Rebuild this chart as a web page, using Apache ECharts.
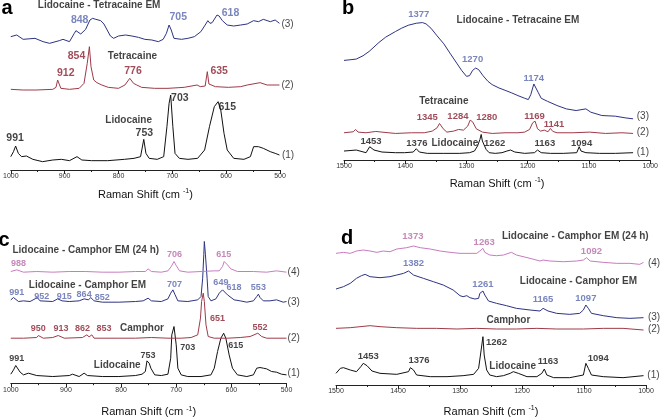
<!DOCTYPE html>
<html>
<head>
<meta charset="utf-8">
<script src="https://cdn.jsdelivr.net/npm/echarts@6/dist/echarts.min.js"></script>
<style>
  html, body { margin: 0; background: #fff; }
  #chart { width: 661px; height: 419px; }
</style>
</head>
<body>
<div id="chart"></div>
<script>
// ---- panel a : 1000-500 cm-1, [shift, intensity] ----
const aLido = [[1000,40],[995,55],[991,72],[986,50],[980,40],[971,42],[959,32],[941,25],[922,30],[906,32],[891,28],[877,40],[868,30],[850,28],[820,28],[789,32],[771,35],[759,40],[753,92],[749,50],[743,35],[728,32],[716,40],[710,130],[706,200],[703,225],[699,130],[695,50],[687,35],[671,32],[653,35],[640,60],[631,130],[622,190],[615,205],[610,180],[604,110],[598,60],[586,35],[567,32],[555,40],[549,70],[540,70],[531,65],[518,55],[509,50],[501,45]];
const aTetra = [[1000,242],[977,240],[953,240],[922,242],[916,248],[913,270],[911,272],[907,245],[891,242],[873,245],[864,260],[858,320],[854,370],[851,310],[846,270],[840,262],[831,255],[819,248],[800,245],[788,255],[779,275],[776,278],[772,260],[766,255],[757,248],[733,245],[708,245],[678,248],[654,255],[648,250],[639,252],[635,295],[632,258],[620,250],[596,248],[573,250],[561,255],[537,262],[524,255],[501,255]];
const aEM = [[1000,400],[989,405],[977,392],[955,395],[940,385],[928,380],[910,388],[903,392],[891,385],[882,410],[879,418],[870,408],[861,422],[853,450],[848,455],[842,452],[833,448],[827,438],[821,420],[815,402],[809,395],[800,402],[787,405],[775,402],[763,398],[751,392],[738,390],[726,385],[717,392],[711,410],[706,435],[702,420],[697,395],[683,392],[671,395],[659,400],[647,415],[639,435],[634,448],[630,440],[626,442],[617,465],[613,462],[607,448],[598,435],[586,432],[573,435],[561,438],[549,448],[540,445],[531,452],[518,445],[509,450],[501,440]];
const aPeaksLido = [[992,95,'991'],[752,110,'753'],[686,215,'703'],[598,190,'615']];
const aPeaksTetra = [[878,342,'854'],[898,292,'912'],[773,297,'776'],[613,297,'635']];
const aPeaksEM = [[872,450,'848'],[689,458,'705'],[592,472,'618']];
const aNames = [[836,495,'Lidocaine - Tetracaine EM'],[774,342,'Tetracaine'],[781,148,'Lidocaine']];
const aNums = [[486,438,'(3)'],[486,255,'(2)'],[485,45,'(1)']];

// ---- panel b : 1500-1000 cm-1 ----
const bLido = [[1500,27],[1480,30],[1464,22],[1458,40],[1451,30],[1438,24],[1416,22],[1401,22],[1387,24],[1382,34],[1377,24],[1364,20],[1337,20],[1311,20],[1295,22],[1287,27],[1282,42],[1278,62],[1276,77],[1274,57],[1268,32],[1263,22],[1253,20],[1242,22],[1234,27],[1228,30],[1221,24],[1205,20],[1189,22],[1184,30],[1181,32],[1178,22],[1163,20],[1142,20],[1120,22],[1116,40],[1113,27],[1105,22],[1083,20],[1057,20],[1028,22]];
const bTetra = [[1500,82],[1485,85],[1481,92],[1477,84],[1464,82],[1448,86],[1438,84],[1416,80],[1390,82],[1369,82],[1356,87],[1348,97],[1344,110],[1338,94],[1332,84],[1321,87],[1313,92],[1305,90],[1298,102],[1294,120],[1290,115],[1284,94],[1274,84],[1258,80],[1237,82],[1216,82],[1205,84],[1197,92],[1192,112],[1188,117],[1184,94],[1179,87],[1173,90],[1167,85],[1163,95],[1159,86],[1152,82],[1126,82],[1099,84],[1073,80],[1046,82],[1028,80]];
const bEM = [[1500,300],[1490,302],[1480,304],[1469,314],[1459,327],[1443,354],[1432,370],[1416,387],[1406,397],[1395,406],[1382,412],[1372,414],[1366,410],[1358,397],[1348,374],[1337,350],[1327,322],[1316,292],[1308,270],[1300,252],[1295,254],[1290,270],[1285,277],[1280,272],[1273,254],[1265,237],[1258,227],[1247,217],[1237,210],[1226,202],[1216,194],[1205,186],[1199,182],[1195,197],[1190,229],[1187,227],[1183,204],[1178,186],[1168,177],[1152,164],[1137,154],[1121,149],[1105,154],[1097,144],[1079,134],[1057,132],[1041,127],[1028,124]];
const bPeaksLido = [[1456,57,'1453'],[1381,50,'1376'],[1254,50,'1262'],[1172,50,'1163'],[1112,50,'1094']];
const bPeaksTetra = [[1364,127,'1345'],[1314,132,'1284'],[1267,127,'1280'],[1189,132,'1169'],[1157,107,'1141']];
const bPeaksEM = [[1378,440,'1377'],[1290,302,'1270'],[1190,247,'1174']];
const bNames = [[1216,422,'Lidocaine - Tetracaine EM'],[1337,177,'Tetracaine'],[1319,50,'Lidocaine']];
const bNums = [[1012,132,'(3)'],[1012,84,'(2)'],[1012,22,'(1)']];

// ---- panel c : 1000-500 cm-1 ----
const cLido = [[1000,27],[995,40],[991,53],[983,33],[977,25],[968,30],[953,23],[924,20],[894,23],[888,27],[876,20],[867,30],[861,23],[834,20],[804,20],[774,23],[762,27],[756,35],[753,67],[749,60],[746,45],[739,25],[727,23],[715,27],[710,75],[708,145],[704,170],[700,115],[697,45],[691,25],[679,20],[655,20],[637,25],[631,45],[625,95],[619,135],[614,150],[610,135],[604,85],[598,45],[589,25],[572,20],[560,25],[554,45],[548,47],[542,45],[536,43],[527,35],[518,33],[509,27],[500,25]];
const cCamphor = [[1000,135],[977,135],[953,137],[950,143],[941,135],[924,137],[914,143],[903,135],[870,137],[862,145],[858,139],[853,145],[849,135],[804,135],[774,135],[745,137],[715,135],[691,135],[673,137],[661,145],[656,195],[654,245],[651,270],[649,245],[646,175],[642,140],[631,135],[607,135],[584,137],[566,140],[552,150],[545,140],[536,135],[500,135]];
const cEM = [[1000,250],[995,257],[986,245],[977,247],[965,245],[956,253],[952,257],[947,247],[924,245],[915,253],[912,257],[907,247],[894,245],[876,247],[867,253],[864,257],[859,250],[855,257],[849,247],[834,243],[804,243],[774,245],[760,247],[751,255],[745,247],[727,245],[715,253],[710,270],[706,280],[702,265],[697,247],[679,245],[661,250],[655,260],[652,315],[650,385],[649,425],[647,385],[644,315],[642,260],[637,247],[628,253],[622,270],[616,280],[607,265],[595,250],[584,247],[572,243],[560,247],[554,260],[551,267],[548,257],[542,247],[530,247],[518,250],[506,243],[500,245]];
const cEM24 = [[1000,335],[989,340],[977,333],[953,335],[924,333],[894,335],[864,335],[834,333],[804,333],[774,335],[756,335],[751,343],[745,335],[727,333],[715,337],[709,350],[704,365],[700,353],[694,337],[679,333],[655,335],[631,337],[622,337],[616,350],[613,365],[607,355],[601,343],[589,335],[560,335],[536,333],[518,337],[500,333]];
const cPeaksLido = [[989,75,'991'],[751,83,'753'],[679,107,'703'],[592,113,'615']];
const cPeaksCamphor = [[625,193,'651'],[548,167,'552'],[950,165,'950'],[909,165,'913'],[870,165,'862'],[831,165,'853']];
const cPeaksEM = [[703,295,'707'],[619,302,'649'],[595,287,'618'],[551,287,'553'],[989,273,'991'],[944,260,'952'],[903,260,'915'],[867,265,'864'],[834,257,'852']];
const cPeaksEM24 = [[703,385,'706'],[614,387,'615'],[986,360,'988']];
const cNames = [[864,398,'Lidocaine - Camphor EM (24 h)'],[861,293,'Lidocaine - Camphor EM'],[762,165,'Camphor'],[807,53,'Lidocaine']];
const cNums = [[487,333,'(4)'],[487,243,'(3)'],[487,135,'(2)'],[487,30,'(1)']];

// ---- panel d : 1500-1000 cm-1 ----
const dLido = [[1500,35],[1493,50],[1488,52],[1477,45],[1467,40],[1460,55],[1456,65],[1450,58],[1442,42],[1429,35],[1402,32],[1383,40],[1380,52],[1375,45],[1370,30],[1348,25],[1321,25],[1295,28],[1278,32],[1270,50],[1267,90],[1263,145],[1261,90],[1257,45],[1252,30],[1241,25],[1230,28],[1219,35],[1214,40],[1206,35],[1192,25],[1176,25],[1168,35],[1164,48],[1160,30],[1149,22],[1123,22],[1101,30],[1097,65],[1093,50],[1088,30],[1069,25],[1037,22],[1004,28]];
const dCamphor = [[1500,170],[1477,172],[1445,178],[1429,175],[1402,172],[1370,170],[1338,170],[1305,168],[1273,170],[1241,168],[1209,168],[1176,170],[1144,168],[1101,168],[1069,170],[1037,170],[1004,165]];
const dEM = [[1500,288],[1488,295],[1477,305],[1467,320],[1459,328],[1453,332],[1445,325],[1429,322],[1413,325],[1402,330],[1391,335],[1383,342],[1375,330],[1359,320],[1343,310],[1327,300],[1311,285],[1300,268],[1295,265],[1289,268],[1284,262],[1276,258],[1270,260],[1268,275],[1263,282],[1260,270],[1254,252],[1241,245],[1225,238],[1209,230],[1187,225],[1171,222],[1166,230],[1158,222],[1144,215],[1123,212],[1107,215],[1101,225],[1097,240],[1093,230],[1088,215],[1069,208],[1047,202],[1026,200],[1004,202]];
const dEM24 = [[1500,395],[1488,398],[1477,395],[1467,402],[1456,405],[1445,402],[1434,398],[1424,402],[1413,400],[1402,408],[1386,412],[1375,417],[1364,412],[1348,408],[1332,402],[1316,398],[1300,395],[1284,395],[1273,395],[1268,402],[1263,410],[1260,398],[1252,390],[1241,388],[1230,390],[1217,398],[1209,390],[1187,380],[1171,372],[1166,375],[1155,372],[1133,370],[1112,372],[1101,375],[1096,382],[1090,372],[1069,368],[1047,365],[1026,365],[1010,362],[1004,368]];
const dPeaksLido = [[1448,85,'1453'],[1366,75,'1376'],[1241,128,'1262'],[1158,70,'1163'],[1077,80,'1094']];
const dPeaksEM = [[1375,365,'1382'],[1263,302,'1261'],[1166,258,'1165'],[1097,260,'1097']];
const dPeaksEM24 = [[1376,445,'1373'],[1261,428,'1263'],[1088,402,'1092']];
const dNames = [[1114,445,'Lidocaine - Camphor EM (24 h)'],[1109,312,'Lidocaine - Camphor EM'],[1222,195,'Camphor'],[1215,55,'Lidocaine']];
const dNums = [[987,365,'(4)'],[987,202,'(3)'],[987,168,'(2)'],[988,30,'(1)']];

const FONT = 'Liberation Sans, Arial, sans-serif';
const lineLido = '#111111', lineDrug = '#9e3a48', lineEM = '#2d3381', lineEM24 = '#c87cbf';
const txtLido = '#111111', txtDrug = '#8a1f30', txtEM = '#5766ad', txtEM24 = '#b56aa8';

// grids: [left, top, width, height, yMax, xMin, xMax, nameGap, peak label size]
const grids = [
    [7, 0, 273, 170, 510, 500, 1000, 18, 10.5],
    [344, 0, 315, 160, 482, 1000, 1500, 17, 9.5],
    [7, 211.5, 279.5, 171.7, 515, 500, 1000, 22, 9],
    [336, 211.7, 310, 173.3, 520, 1000, 1500, 20, 9.5]
];

function curve(i, data, color) {
    return {
        type: 'line', xAxisIndex: i, yAxisIndex: i, data: data,
        symbol: 'none', smooth: false, silent: true,
        lineStyle: { color: color, width: 1 }
    };
}

function texts(i, data, color, size, weight) {
    return {
        type: 'scatter', xAxisIndex: i, yAxisIndex: i, data: data,
        symbolSize: 1, clip: false, silent: true, z: 10,
        itemStyle: { color: 'rgba(0,0,0,0)' },
        label: {
            show: true, position: 'inside', formatter: p => p.data[2],
            color: color, fontSize: size, fontWeight: weight, fontFamily: FONT
        }
    };
}

function peaks(i, data, color) {
    return texts(i, data, color, grids[i][8], 'bold');
}

function panelLetter(ch, x, y) {
    return {
        type: 'text', x: x, y: y, silent: true,
        style: { text: ch, fontSize: 20, fontWeight: 'bold', fontFamily: FONT, fill: '#000',
                 textAlign: 'center', textVerticalAlign: 'middle' }
    };
}

const chart = echarts.init(document.getElementById('chart'));

const option = {
    animation: false,
    backgroundColor: '#fff',
    grid: grids.map(g => ({ left: g[0], top: g[1], width: g[2], height: g[3], containLabel: false })),
    xAxis: grids.map((g, i) => ({
        gridIndex: i, type: 'value', min: g[5], max: g[6], interval: 100, inverse: true,
        axisLine: { show: true, onZero: false, lineStyle: { color: '#222', width: 1 } },
        axisTick: { show: true, length: 4, lineStyle: { color: '#222' } },
        minorTick: { show: true, splitNumber: 2, length: 2, lineStyle: { color: '#222' } },
        splitLine: { show: false },
        axisLabel: {
            fontSize: 7, color: '#333', margin: 3, fontFamily: FONT,
            showMinLabel: true, showMaxLabel: true, formatter: v => String(v)
        },
        name: '{t|Raman Shift (cm }{s|-1}{t|)}',
        nameLocation: 'middle', nameGap: g[7],
        nameTextStyle: {
            rich: {
                t: { fontSize: 11, color: '#111', fontFamily: FONT },
                s: { fontSize: 7, color: '#111', fontFamily: FONT, padding: [0, 0, 6, 0] }
            }
        }
    })),
    yAxis: grids.map((g, i) => ({ gridIndex: i, type: 'value', min: 0, max: g[4], show: false })),
    graphic: [
        panelLetter('a', 7, 8),
        panelLetter('b', 348, 8),
        panelLetter('c', 4, 240),
        panelLetter('d', 347, 238)
    ],
    series: [
        curve(0, aLido, lineLido), curve(0, aTetra, lineDrug), curve(0, aEM, lineEM),
        peaks(0, aPeaksLido, txtLido), peaks(0, aPeaksTetra, txtDrug), peaks(0, aPeaksEM, txtEM),
        texts(0, aNames, '#111', 10, 'bold'), texts(0, aNums, '#111', 10, 'normal'),

        curve(1, bLido, lineLido), curve(1, bTetra, lineDrug), curve(1, bEM, lineEM),
        peaks(1, bPeaksLido, txtLido), peaks(1, bPeaksTetra, txtDrug), peaks(1, bPeaksEM, txtEM),
        texts(1, bNames, '#111', 10, 'bold'), texts(1, bNums, '#111', 10, 'normal'),

        curve(2, cLido, lineLido), curve(2, cCamphor, lineDrug), curve(2, cEM, lineEM), curve(2, cEM24, lineEM24),
        peaks(2, cPeaksLido, txtLido), peaks(2, cPeaksCamphor, txtDrug),
        peaks(2, cPeaksEM, txtEM), peaks(2, cPeaksEM24, txtEM24),
        texts(2, cNames, '#111', 10, 'bold'), texts(2, cNums, '#111', 10, 'normal'),

        curve(3, dLido, lineLido), curve(3, dCamphor, lineDrug), curve(3, dEM, lineEM), curve(3, dEM24, lineEM24),
        peaks(3, dPeaksLido, txtLido), peaks(3, dPeaksEM, txtEM), peaks(3, dPeaksEM24, txtEM24),
        texts(3, dNames, '#111', 10, 'bold'), texts(3, dNums, '#111', 10, 'normal')
    ]
};

chart.setOption(option);
</script>
</body>
</html>
